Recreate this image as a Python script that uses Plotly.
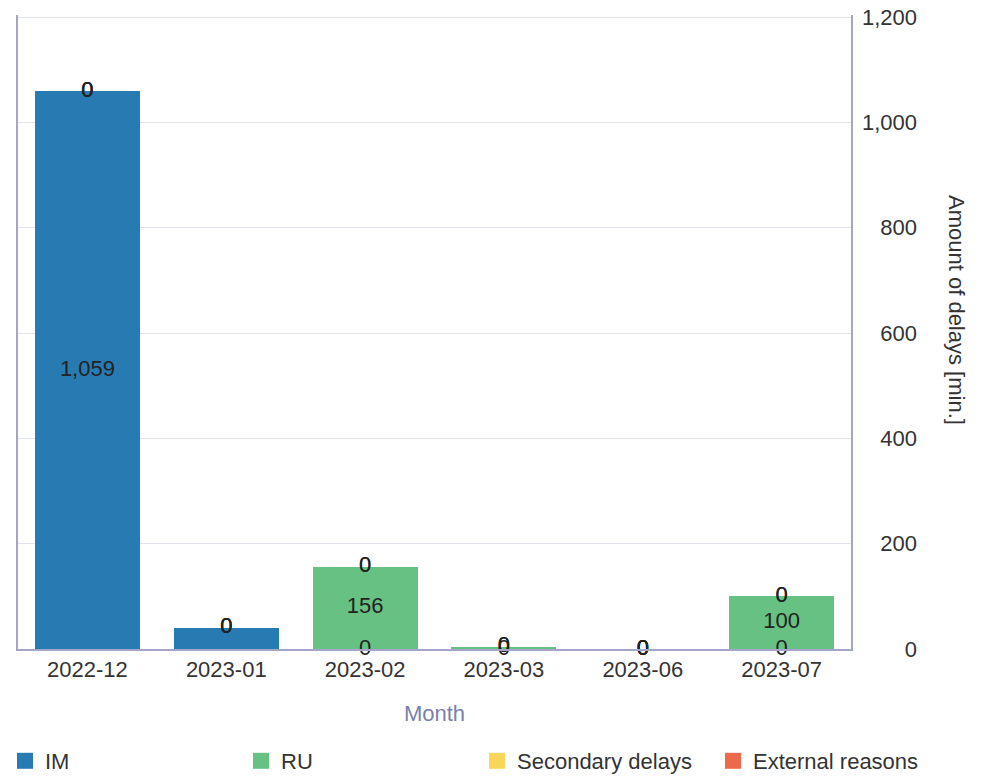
import plotly.graph_objects as go

# ---- data ----
months = ["2022-12", "2023-01", "2023-02", "2023-03", "2023-06", "2023-07"]
series_names = ["IM", "RU", "Secondary delays", "External reasons"]
im_values = [1059, 40, 0, 0, 0, 0]
ru_values = [0, 0, 156, 4, 0, 100]
secondary_values = [0, 0, 0, 0, 0, 0]
external_values = [0, 0, 0, 0, 0, 0]
colors = ["#277bb2", "#66c182", "#f8d65c", "#ec6a4a"]
y_max = 1200

all_values = [im_values, ru_values, secondary_values, external_values]

# page has an 8px body margin, so the figure is laid out in its own coordinates
W, H = 979, 768
ML, MR, MT, MB = 10, 10, 7, 127
plot_w = W - ML - MR
plot_h = H - MT - MB
x_right_px = 843
FONT = '"Liberation Sans", Arial, sans-serif'
FS = 22
TXT = "#333333"
AXIS_LINE = "#a4a6c9"


def px_x(px):
    return (px - ML) / plot_w


def px_y(py):
    return (MT + plot_h - py) / plot_h


fig = go.Figure()

# stacked bars
for name, vals, col in zip(series_names, all_values, colors):
    fig.add_trace(go.Bar(
        x=months, y=vals, name=name, marker=dict(color=col, line=dict(width=0)),
        showlegend=False, hoverinfo="x+y+name", xaxis="x", yaxis="y",
    ))

# data labels (centered on each stacked segment; zero segments labelled at their base)
base = [0] * len(months)
for name, vals in zip(series_names, all_values):
    xs, ys, ts = [], [], []
    for i, v in enumerate(vals):
        if v == 0:
            xs.append(months[i]); ys.append(base[i]); ts.append("0")
        elif v >= 50:
            xs.append(months[i]); ys.append(base[i] + v / 2); ts.append(f"{v:,}")
    fig.add_trace(go.Scatter(
        x=xs, y=ys, text=ts, mode="text", textposition="middle center",
        textfont=dict(family=FONT, size=FS, color="#222222"),
        showlegend=False, hoverinfo="skip", cliponaxis=False,
        xaxis="x", yaxis="y2",
    ))
    base = [b + v for b, v in zip(base, vals)]

# legend entries
for name, col in zip(series_names, colors):
    fig.add_trace(go.Scatter(
        x=[None], y=[None], mode="markers", name=name,
        marker=dict(symbol="square", size=20, color=col),
        xaxis="x", yaxis="y",
    ))

# small headroom so the top grid line / tick at y_max is kept by plotly
yr = [0, y_max + 4]

fig.update_layout(
    width=W, height=H,
    margin=dict(l=ML, r=MR, t=MT, b=MB, pad=0, autoexpand=False),
    paper_bgcolor="white", plot_bgcolor="white",
    barmode="stack", bargap=0.243,
    font=dict(family=FONT, size=FS, color=TXT),
    xaxis=dict(
        domain=[0, px_x(x_right_px)],
        type="category", categoryorder="array", categoryarray=months,
        showline=True, linecolor=AXIS_LINE, linewidth=1.5,
        showgrid=False, ticks="", tickfont=dict(family=FONT, size=FS, color=TXT),
        title=dict(text="Month", font=dict(family=FONT, size=FS, color="#7a7fab"), standoff=24),
        anchor="y", automargin=False,
    ),
    yaxis=dict(
        range=yr, dtick=200, tick0=0, side="right", anchor="x",
        showline=True, linecolor=AXIS_LINE, linewidth=1.5, mirror=True,
        showgrid=True, gridcolor="#e0e3ee", gridwidth=1,
        zeroline=False, showticklabels=False, ticks="", automargin=False,
    ),
    yaxis2=dict(
        range=yr, dtick=200, tick0=0, overlaying="y", anchor="free",
        position=px_x(909), side="left", ticklabeloverflow="allow",
        showline=False, showgrid=False, zeroline=False, ticks="",
        tickformat=",d", tickfont=dict(family=FONT, size=FS, color=TXT),
        automargin=False,
    ),
    legend=dict(
        orientation="h", x=px_x(-3), xanchor="left", y=px_y(753),
        yanchor="middle", entrywidth=191, entrywidthmode="pixels",
        traceorder="normal",
        font=dict(family=FONT, size=FS, color=TXT), bgcolor="rgba(0,0,0,0)",
        itemclick=False,
    ),
    annotations=[dict(
        text="Amount of delays [min.]", textangle=90, showarrow=False,
        xref="paper", yref="paper",
        x=px_x(949), y=px_y(302),
        xanchor="center", yanchor="middle",
        font=dict(family=FONT, size=FS, color=TXT),
    )],
)

fig.write_html("out.html")
